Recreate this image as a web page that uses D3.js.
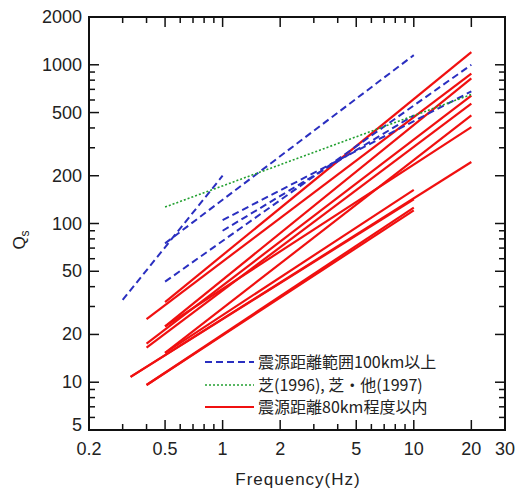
<!DOCTYPE html>
<html><head><meta charset="utf-8">
<script src="https://cdn.jsdelivr.net/npm/d3@7"></script>
<style>
html,body{margin:0;padding:0;background:#fff;}
svg{display:block;}
text{font-family:"Liberation Sans",Arial,Helvetica,sans-serif;fill:#222;}
.jp{font-family:"Noto Sans CJK JP","Noto Sans",sans-serif;}
</style></head>
<body>
<script>
// ---------- data ----------
const xTickLabels = [0.2, 0.5, 1, 2, 5, 10, 20, 30];
const xMinorTicks = [0.3, 0.4, 0.6, 0.7, 0.8, 0.9, 3, 4, 6, 7, 8, 9];
const yTickLabels = [5, 10, 20, 50, 100, 200, 500, 1000, 2000];
const yMinorTicks = [6, 7, 8, 9, 30, 40, 60, 70, 80, 90, 300, 400, 600, 700, 800, 900];

// far events (>=100 km): blue dashed  [f start, f end] / [Qs start, Qs end]
const blueFreq = [[0.3, 1], [0.5, 10], [0.5, 20], [1, 20], [1, 10]];
const blueQs   = [[33, 200], [75, 1150], [43, 1000], [105, 680], [90, 480]];

// Shiba (1996), Shiba et al. (1997): green dotted
const greenFreq = [[0.5, 20]];
const greenQs   = [[127, 650]];

// near events (<=80 km): red solid
const redFreq = [[0.5, 20], [0.4, 20], [0.5, 20], [0.4, 20], [0.4, 20], [0.5, 20],
                 [0.5, 20], [0.33, 20], [0.5, 10], [0.33, 10], [0.4, 10], [0.4, 10]];
const redQs   = [[32, 1200], [25, 880], [22.5, 820], [17.5, 640], [16.5, 570], [15.3, 480],
                 [22.5, 405], [10.8, 244], [15.3, 163], [10.8, 142], [9.6, 126], [9.6, 121]];

const legendLabels = ["震源距離範囲100km以上", "芝(1996), 芝・他(1997)", "震源距離80km程度以内"];
const xTitle = "Frequency(Hz)";

// ---------- drawing ----------
const W = 517, H = 490;
const L = 89, R = 505, T = 17, B = 430;
const svg = d3.select("body").append("svg").attr("width", W).attr("height", H);
svg.append("rect").attr("width", W).attr("height", H).attr("fill", "#fff");

const x = d3.scaleLog().domain([0.2, 30]).range([L, R]);
const y = d3.scaleLog().domain([5, 2000]).range([B, T]);

const plot = svg.append("g");
plot.append("clipPath").attr("id", "clip").append("rect")
  .attr("x", L).attr("y", T).attr("width", R - L).attr("height", B - T);

const line = d3.line().x(d => x(d[0])).y(d => y(d[1]));
function seg(fs, qs) { return fs.map((f, i) => [[f[0], qs[i][0]], [f[1], qs[i][1]]]); }

const lines = plot.append("g").attr("clip-path", "url(#clip)");
lines.selectAll(".red").data(seg(redFreq, redQs)).join("path")
  .attr("d", line).attr("fill", "none").attr("stroke", "#f01010").attr("stroke-width", 2.2);
lines.selectAll(".blue").data(seg(blueFreq, blueQs)).join("path")
  .attr("d", line).attr("fill", "none").attr("stroke", "#2a2fc0").attr("stroke-width", 2)
  .attr("stroke-dasharray", "7,4");
lines.selectAll(".green").data(seg(greenFreq, greenQs)).join("path")
  .attr("d", line).attr("fill", "none").attr("stroke", "#22a030").attr("stroke-width", 1.6)
  .attr("stroke-dasharray", "2,2");

// axes with inward ticks
const major = 10, minor = 6;
const axisG = svg.append("g").attr("stroke", "#111").attr("stroke-width", 1.5);
const xMajor = xTickLabels.filter(v => v > 0.2 && v < 30);
const yMajor = yTickLabels.filter(v => v > 5 && v < 2000);
function xt(vals, len) {
  vals.forEach(v => {
    axisG.append("line").attr("x1", x(v)).attr("x2", x(v)).attr("y1", B).attr("y2", B - len);
    axisG.append("line").attr("x1", x(v)).attr("x2", x(v)).attr("y1", T).attr("y2", T + len);
  });
}
function yt(vals, len) {
  vals.forEach(v => {
    axisG.append("line").attr("y1", y(v)).attr("y2", y(v)).attr("x1", L).attr("x2", L + len);
    axisG.append("line").attr("y1", y(v)).attr("y2", y(v)).attr("x1", R).attr("x2", R - len);
  });
}
xt(xMajor, major); xt(xMinorTicks, minor);
yt(yMajor, major); yt(yMinorTicks, minor);
svg.append("rect").attr("x", L).attr("y", T).attr("width", R - L).attr("height", B - T)
  .attr("fill", "none").attr("stroke", "#111").attr("stroke-width", 2);

// tick labels
svg.append("g").selectAll("text").data(xTickLabels).join("text")
  .attr("x", d => x(d)).attr("y", 455).attr("text-anchor", "middle")
  .attr("font-size", 18).text(d => d);
svg.append("g").selectAll("text").data(yTickLabels).join("text")
  .attr("x", 82).attr("y", d => y(d) + (d === 5 ? 1 : 6)).attr("text-anchor", "end")
  .attr("font-size", 18).text(d => d);

// axis titles
svg.append("text").attr("x", 298).attr("y", 485).attr("text-anchor", "middle")
  .attr("font-size", 17).attr("letter-spacing", 1).text(xTitle);
const yl = svg.append("text").attr("transform", "translate(25,240) rotate(-90)")
  .attr("text-anchor", "middle").attr("font-size", 17);
yl.append("tspan").text("Q");
yl.append("tspan").attr("font-size", 12).attr("dy", 4).text("s");

// legend
const legY = [362, 385, 407];
const legStyles = [
  {c: "#2a2fc0", w: 2, d: "7,4"},
  {c: "#22a030", w: 1.6, d: "2,2"},
  {c: "#f01010", w: 2.2, d: null}
];
const leg = svg.append("g");
legendLabels.forEach((t, i) => {
  leg.append("line").attr("x1", 205).attr("x2", 254).attr("y1", legY[i]).attr("y2", legY[i])
    .attr("stroke", legStyles[i].c).attr("stroke-width", legStyles[i].w)
    .attr("stroke-dasharray", legStyles[i].d);
  leg.append("text").attr("class", "jp").attr("x", 258).attr("y", legY[i] + 6)
    .attr("font-size", 16).text(t);
});
</script>
</body></html>
